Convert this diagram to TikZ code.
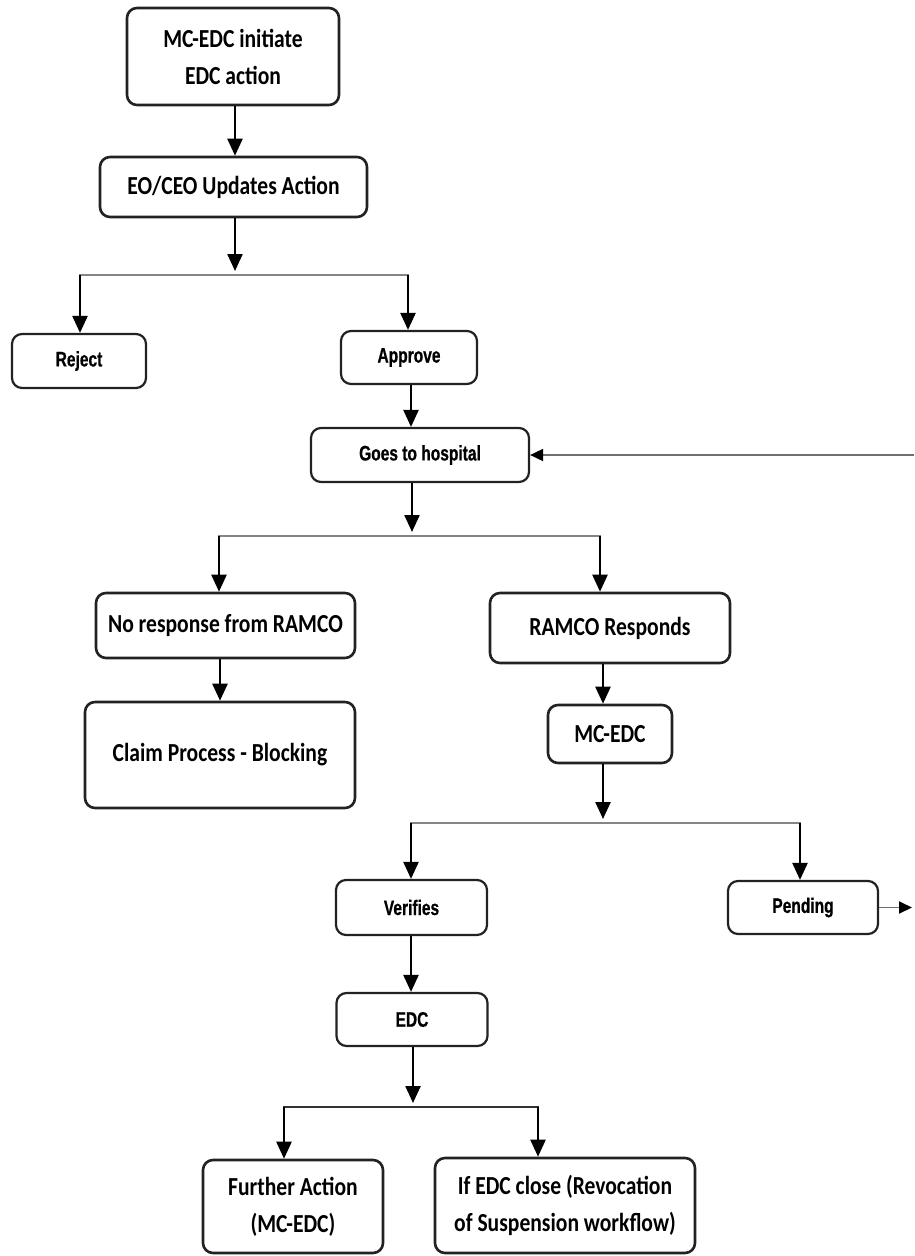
\documentclass[tikz,border=0pt]{standalone}
\usepackage{fontspec}
\usetikzlibrary{arrows.meta}
\newfontfamily\calfont[FakeStretch=0.83]{Carlito}
\newfontfamily\narrowfont[FakeStretch=0.74,FakeBold=0.6]{Liberation Sans}
\definecolor{bordercol}{HTML}{222222}
\definecolor{branchgray}{HTML}{858585}
\definecolor{darkbranch}{HTML}{333333}
\definecolor{thingray}{HTML}{707070}
\tikzset{
  box/.style={draw=bordercol, line width=2.6pt, rounded corners=10pt, fill=white, inner sep=0pt, align=center},
  calbox/.style={box, font=\calfont\bfseries\fontsize{26}{37}\selectfont},
  narbox/.style={box, line width=2.2pt, font=\narrowfont\bfseries\fontsize{21}{24}\selectfont},
  arr/.style={line width=2.4pt, draw=black, -{Triangle[length=17pt,width=15pt]}},
  branch/.style={line width=2.6pt, draw=branchgray, line cap=rect},
  thinarr/.style={line width=1.8pt, draw=thingray, -{Triangle[length=13pt,width=12pt,color=black]}}
}
\begin{document}
\begin{tikzpicture}[x=1pt,y=-1pt]
\useasboundingbox (0,0) rectangle (914,1256);
% nodes
\node[calbox, minimum width=212pt, minimum height=97pt] (n1) at (233,56.5) {MC-EDC initiate\\EDC action};
\node[calbox, minimum width=267pt, minimum height=60pt] (n2) at (233.5,187) {EO/CEO Updates Action};
\node[narbox, minimum width=134pt, minimum height=54pt] (rej) at (79,361) {Reject};
\node[narbox, minimum width=136pt, minimum height=53pt] (app) at (409,357.5) {Approve};
\node[narbox, minimum width=218pt, minimum height=54pt] (hosp) at (420,455) {Goes to hospital};
\node[calbox, minimum width=259pt, minimum height=65pt] (nore) at (225.5,625.5) {No response from RAMCO};
\node[calbox, minimum width=240pt, minimum height=70pt] (ramco) at (610,628) {RAMCO Responds};
\node[calbox, minimum width=270pt, minimum height=106pt] (claim) at (220,755) {Claim Process - Blocking};
\node[calbox, minimum width=124pt, minimum height=58pt] (mcedc) at (610,734) {MC-EDC};
\node[narbox, minimum width=151pt, minimum height=55pt] (ver) at (411.5,907.5) {Verifies};
\node[narbox, minimum width=150pt, minimum height=53pt] (pend) at (803,907.5) {Pending};
\node[narbox, minimum width=151pt, minimum height=53pt] (edc) at (412,1019.5) {EDC};
\node[calbox, minimum width=180pt, minimum height=93pt] (fa) at (293,1206.5) {Further Action\\(MC-EDC)};
\node[calbox, minimum width=260pt, minimum height=95pt] (close) at (565,1205.5) {If EDC close (Revocation\\of Suspension workflow)};
% helper coordinates
\coordinate (x411) at (411,0);
\coordinate (x220) at (220,0);
\coordinate (x603) at (603,0);
\coordinate (s1m) at (235,271);
\coordinate (s1l) at (80,275);
\coordinate (s1r) at (408,275);
\coordinate (s2m) at (412,532);
\coordinate (s2l) at (219,536);
\coordinate (s2r) at (600,536);
\coordinate (s3m) at (603,819);
\coordinate (s3l) at (411,823);
\coordinate (s3r) at (800,823);
\coordinate (s4m) at (413,1103);
\coordinate (s4l) at (284,1107);
\coordinate (s4r) at (538,1107);
\coordinate (loopin) at (914,455);
\coordinate (loopout) at (912,907.5);
% connectors
\draw[arr] (n1.south -| s1m) -- (n2.north -| s1m);
\draw[arr] (n2.south -| s1m) -- (s1m);
\draw[branch] (s1l) -- (s1r);
\draw[arr] (s1l) -- (rej.north -| s1l);
\draw[arr] (s1r) -- (app.north -| s1r);
\draw[arr] (app.south -| x411) -- (hosp.north -| x411);
\draw[arr] (hosp.south -| s2m) -- (s2m);
\draw[branch] (s2l) -- (s2r);
\draw[arr] (s2l) -- (nore.north -| s2l);
\draw[arr] (s2r) -- (ramco.north -| s2r);
\draw[arr] (nore.south -| x220) -- (claim.north -| x220);
\draw[arr] (ramco.south -| x603) -- (mcedc.north -| x603);
\draw[arr] (mcedc.south -| s3m) -- (s3m);
\draw[branch] (s3l) -- (s3r);
\draw[arr] (s3l) -- (ver.north -| s3l);
\draw[arr] (s3r) -- (pend.north -| s3r);
\draw[arr] (ver.south -| x411) -- (edc.north -| x411);
\draw[arr] (edc.south -| s4m) -- (s4m);
\draw[branch, draw=darkbranch] (s4l) -- (s4r);
\draw[arr] (s4l) -- (fa.north -| s4l);
\draw[arr] (s4r) -- (close.north -| s4r);
\draw[thinarr] (loopin) -- (hosp.east);
\draw[thinarr] (pend.east) -- (loopout);
\end{tikzpicture}
\end{document}
